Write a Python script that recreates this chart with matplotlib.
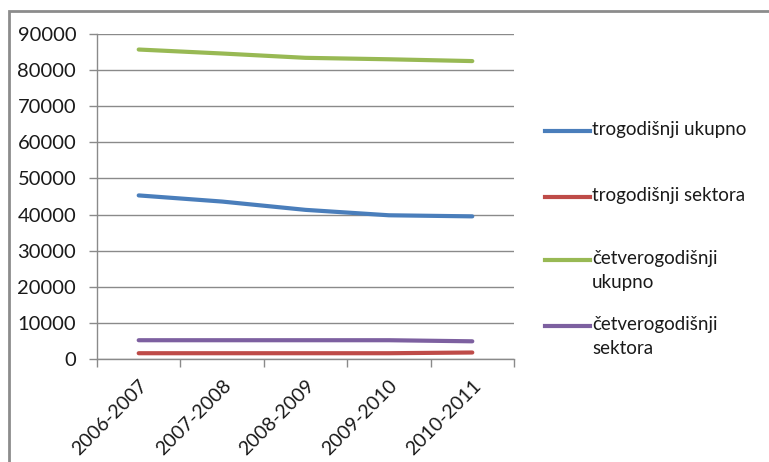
import matplotlib.pyplot as plt
from matplotlib.lines import Line2D
from matplotlib.patches import Rectangle

# School years and enrolment counts per programme type
years = ["2006-2007", "2007-2008", "2008-2009", "2009-2010", "2010-2011"]
trogodisnji_ukupno = [45300, 43600, 41300, 39800, 39500]
trogodisnji_sektora = [1600, 1600, 1600, 1600, 1800]
cetverogodisnji_ukupno = [85700, 84600, 83400, 83000, 82500]
cetverogodisnji_sektora = [5200, 5200, 5200, 5200, 4900]

labels = ["trogodišnji ukupno", "trogodišnji sektora",
          "četverogodišnji\nukupno", "četverogodišnji\nsektora"]
colors = ["#4A7EBB", "#BE4B48", "#98B954", "#7D60A0"]
series = [trogodisnji_ukupno, trogodisnji_sektora,
          cetverogodisnji_ukupno, cetverogodisnji_sektora]

plt.rcParams["font.family"] = ["Lato", "DejaVu Sans"]
W, H = 769, 462
fig = plt.figure(figsize=(W / 100, H / 100), dpi=100)
ax = fig.add_axes([97 / W, 1 - 359 / H, (514 - 97) / W, (359 - 34) / H])

x = list(range(len(years)))
for vals, c in zip(series, colors):
    ax.plot(x, vals, color=c, lw=3, solid_capstyle="round")

grid_c = "#8a8a8a"
ax.set_xlim(-0.5, len(years) - 0.5)
ax.set_ylim(0, 90000)
ax.set_yticks(range(0, 90001, 10000))
ax.set_yticklabels([str(v) for v in range(0, 90001, 10000)])
ax.yaxis.grid(True, color=grid_c, lw=1)
ax.set_axisbelow(True)
ax.set_xticks(x)
ax.set_xticklabels(years, rotation=45, ha="right", rotation_mode="anchor")
ax.set_xticks([i - 0.5 for i in range(len(years) + 1)], minor=True)
ax.tick_params(axis="x", which="major", length=0, pad=13, labelsize=14, colors="#1a1a1a")
ax.tick_params(axis="x", which="minor", length=6, color=grid_c, width=1)
ax.tick_params(axis="y", length=6, color=grid_c, width=1, pad=9, labelsize=14.5,
               labelcolor="#1a1a1a")
for side in ("top", "right"):
    ax.spines[side].set_visible(False)
for side in ("left", "bottom"):
    ax.spines[side].set_color(grid_c)
    ax.spines[side].set_linewidth(1)

# legend drawn to the right of the plot
leg_y = [131, 197, 260, 326]
for y, lab, c in zip(leg_y, labels, colors):
    fig.add_artist(Line2D([545 / W, 590 / W], [1 - y / H, 1 - y / H],
                          color=c, lw=3, transform=fig.transFigure))
    fig.text(592 / W, 1 - (y - 10) / H, lab, fontsize=13.5, color="#1a1a1a",
             va="top", ha="left", linespacing=1.5)

# outer chart frame
fig.add_artist(Rectangle((9 / W, -0.1), 1.1, 1 - 11 / H + 0.1,
                         transform=fig.transFigure, fill=False,
                         edgecolor="#8c8c8c", lw=2))

fig.savefig("out.png", dpi=100)
